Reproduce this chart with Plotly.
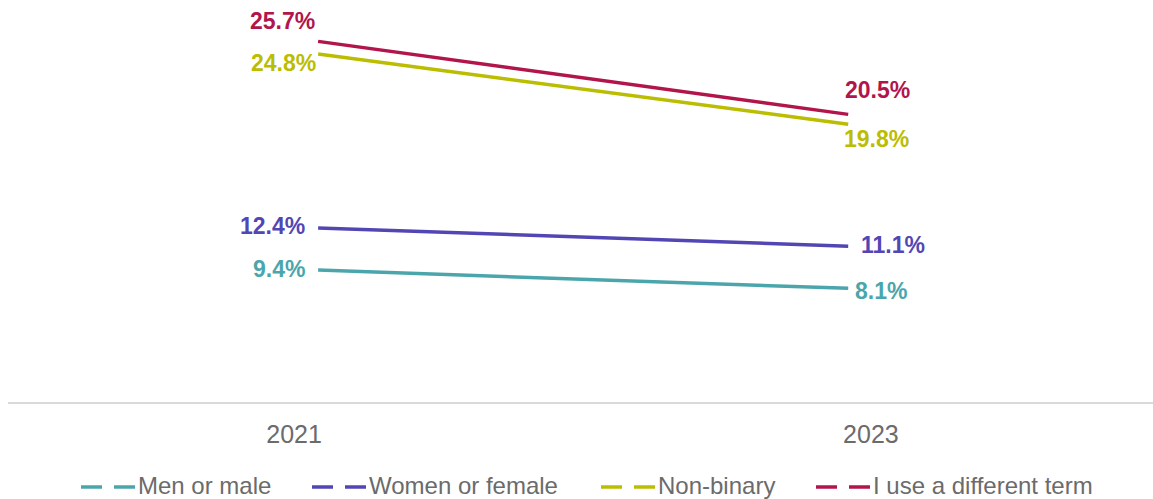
import plotly.graph_objects as go

# ---- data -------------------------------------------------------------
YEARS = ["2021", "2023"]
SERIES = ["Men or male", "Women or female", "Non-binary", "I use a different term"]
MEN = [9.4, 8.1]
WOMEN = [12.4, 11.1]
NON_BINARY = [24.8, 19.8]
DIFFERENT_TERM = [25.7, 20.5]

VALUES = {
    "Men or male": MEN,
    "Women or female": WOMEN,
    "Non-binary": NON_BINARY,
    "I use a different term": DIFFERENT_TERM,
}

# ---- styling ----------------------------------------------------------
COLORS = {
    "Men or male": "#4BA6AC",
    "Women or female": "#5246B4",
    "Non-binary": "#BBBD00",
    "I use a different term": "#B2154B",
}
FONT = "Arial, 'Liberation Sans', sans-serif"
GREY_TEXT = "#6B6B6B"
W, H = 1153, 499
M_L, M_R, M_T, M_B = 8, 0, 0, 97
PLOT_W = W - M_L - M_R
PLOT_H = H - M_T - M_B

# value-label placement per series: (xanchor, xshift, yshift) for each year
LABEL_PLACEMENT = {
    "Men or male": [("right", -11, 1), ("left", 5, -3)],
    "Women or female": [("right", -11, 2), ("left", 11, 1)],
    "Non-binary": [("right", 0, -9), ("left", -6, -15)],
    "I use a different term": [("right", -1, 20), ("left", -5, 24)],
}

fig = go.Figure()

# lines live on an overlaid category axis with a tighter spread
for name in SERIES:
    fig.add_trace(go.Scatter(
        x=YEARS, y=VALUES[name], xaxis="x2", yaxis="y",
        mode="lines", name=name, showlegend=False,
        line=dict(color=COLORS[name], width=3.5),
        hoverinfo="skip",
    ))

# carrier for the year tick labels on the primary axis
fig.add_trace(go.Scatter(
    x=YEARS, y=[None, None], xaxis="x", yaxis="y",
    mode="lines", showlegend=False, hoverinfo="skip",
))

annotations = []
for name in SERIES:
    for i, year in enumerate(YEARS):
        xa, xs, ys = LABEL_PLACEMENT[name][i]
        annotations.append(dict(
            # category index of the year on the line axis
            x=YEARS.index(year), y=VALUES[name][i], xref="x2", yref="y",
            text=f"{VALUES[name][i]:.1f}%", showarrow=False,
            xanchor=xa, yanchor="middle", xshift=xs, yshift=ys,
            font=dict(family=FONT, size=23, color=COLORS[name], weight="bold"),
        ))

# legend drawn as two short dashes followed by the series name
LEGEND_Y_PX = 487
LEGEND_START_PX = [81, 312, 601, 816]
shapes = []


def px_x(px):
    return (px - M_L) / PLOT_W


def px_y(py):
    return (M_T + PLOT_H - py) / PLOT_H


for name, sx in zip(SERIES, LEGEND_START_PX):
    for a, b in [(0, 21), (33, 54)]:
        shapes.append(dict(
            type="line", xref="paper", yref="paper",
            x0=px_x(sx + a), x1=px_x(sx + b),
            y0=px_y(LEGEND_Y_PX), y1=px_y(LEGEND_Y_PX),
            line=dict(color=COLORS[name], width=3.5),
        ))
    annotations.append(dict(
        x=px_x(sx + 55), y=px_y(LEGEND_Y_PX - 1.5), xref="paper", yref="paper",
        text=name, showarrow=False, xanchor="left", yanchor="middle",
        font=dict(family=FONT, size=24, color=GREY_TEXT),
    ))

fig.update_layout(
    width=W, height=H,
    margin=dict(l=M_L, r=M_R, t=M_T, b=M_B),
    paper_bgcolor="white", plot_bgcolor="white",
    showlegend=False,
    xaxis=dict(
        type="category", categoryorder="array", categoryarray=YEARS,
        range=[-0.496, 1.489], showgrid=False, zeroline=False,
        showline=True, linecolor="#D9D9D9", linewidth=2,
        ticks="", tickfont=dict(family=FONT, size=25, color=GREY_TEXT),
        ticklabelstandoff=9, fixedrange=True,
    ),
    xaxis2=dict(
        type="category", categoryorder="array", categoryarray=YEARS,
        range=[-0.585, 1.575], overlaying="x", anchor="y",
        visible=False, fixedrange=True,
    ),
    yaxis=dict(range=[0, 28.65], visible=False, fixedrange=True),
    annotations=annotations,
    shapes=shapes,
)

fig.write_html("out.html")
